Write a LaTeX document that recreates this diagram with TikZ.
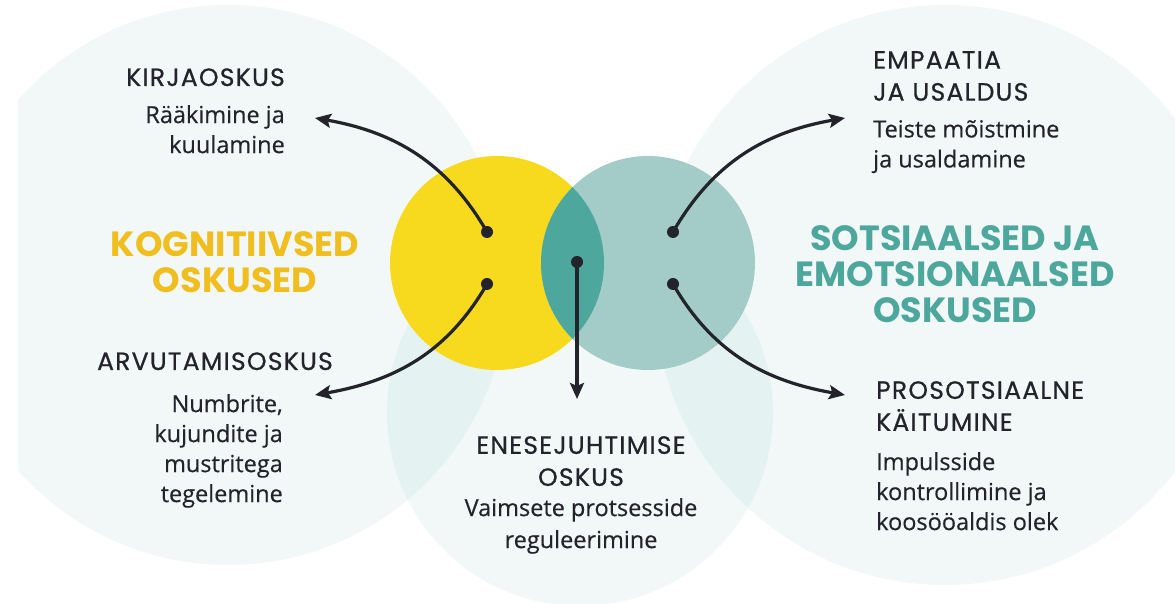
\documentclass[tikz,border=0pt]{standalone}
\usepackage{fontspec}
\setmainfont{Open Sans}[FakeBold=0.4]
\newfontfamily\headfont{Poppins}[FakeBold=0.7,LetterSpace=5]
\newfontfamily\titlefont{Poppins}
\usetikzlibrary{arrows.meta}
\definecolor{pale}{HTML}{4BA89F}
\definecolor{sunny}{HTML}{F7D91E}
\definecolor{mint}{HTML}{A3CCC8}
\definecolor{deepteal}{HTML}{4DA79C}
\definecolor{gold}{HTML}{F0BE1E}
\definecolor{ink}{HTML}{23232C}
\begin{document}
\begin{tikzpicture}[x=1pt,y=1pt,
  bubble/.style={fill=pale,fill opacity=0.08},
  conn/.style={ink,line width=3.2pt,-{Stealth[length=16pt,width=14pt,inset=3pt]}},
  dot/.style={circle,fill=ink,inner sep=0pt,minimum size=12pt},
  head/.style={ink,inner sep=0pt,font=\headfont\fontsize{25}{32}\selectfont},
  body/.style={ink,inner sep=0pt,font=\fontsize{23.5}{30}\selectfont},
  title/.style={inner sep=0pt,align=center,font=\titlefont\bfseries\fontsize{35}{36}\selectfont}]
\useasboundingbox (0,0) rectangle (1175,604);
\begin{scope}
\clip (18,0) rectangle (1175,604);
\fill[bubble] (228,319) circle (280pt);
\fill[bubble] (945,309) circle (290pt);
\fill[bubble] (580,191) circle (193pt);
\end{scope}
\fill[sunny] (497,341) circle (107pt);
\fill[mint] (648,341) circle (107pt);
\begin{scope}
\clip (497,341) circle (107pt);
\fill[deepteal] (648,341) circle (107pt);
\end{scope}

\node[head,anchor=base east] (kirja) at (285,518) {KIRJAOSKUS};
\node[body,align=right,anchor=north east] (kirjatxt) at (285,499) {Rääkimine ja\\kuulamine};
\node[title,text=gold] (kognitiiv) at (235,342) {KOGNITIIVSED\\OSKUSED};
\node[head,anchor=base east] (arvu) at (333,234) {ARVUTAMISOSKUS};
\node[body,align=right,anchor=north east] (arvutxt) at (283,210) {Numbrite,\\kujundite ja\\mustritega\\tegelemine};
\node[head,align=left,anchor=north west] (empaatia) at (873,553) {EMPAATIA\\JA USALDUS};
\node[body,align=left,anchor=north west] (empaatiatxt) at (873,484) {Teiste mõistmine\\ja usaldamine};
\node[title,text=deepteal] (sotsiaal) at (955,330) {SOTSIAALSED JA\\EMOTSIONAALSED\\OSKUSED};
\node[head,align=left,anchor=north west] (proso) at (876,223) {PROSOTSIAALNE\\KÄITUMINE};
\node[body,align=left,anchor=north west] (prosotxt) at (876,152) {Impulsside\\kontrollimine ja\\koosööaldis olek};
\node[head,align=center,anchor=north] (enese) at (581,168) {ENESEJUHTIMISE\\OSKUS};
\node[body,align=center,anchor=north,font=\fontsize{23.5}{32}\selectfont] (enesetxt) at (581,106) {Vaimsete protsesside\\reguleerimine};

\node[dot] (kirjadot) at (487,372) {};
\node[dot] (arvudot) at (487,320) {};
\node[dot] (enesedot) at (577,342) {};
\node[dot] (empaatiadot) at (673,372) {};
\node[dot] (prosodot) at (673,320) {};
\coordinate (kirjatip) at (315,486);
\coordinate (arvutip) at (315,209);
\coordinate (enesetip) at (577,205);
\coordinate (empaatiatip) at (845,486);
\coordinate (prosotip) at (845,209);
\draw[conn] (kirjadot.center) to[out=120,in=-10] (kirjatip);
\draw[conn] (arvudot.center) to[out=-120,in=10] (arvutip);
\draw[conn] (enesedot.center) -- (enesetip);
\draw[conn] (empaatiadot.center) to[out=60,in=190] (empaatiatip);
\draw[conn] (prosodot.center) to[out=-60,in=170] (prosotip);
\end{tikzpicture}
\end{document}
